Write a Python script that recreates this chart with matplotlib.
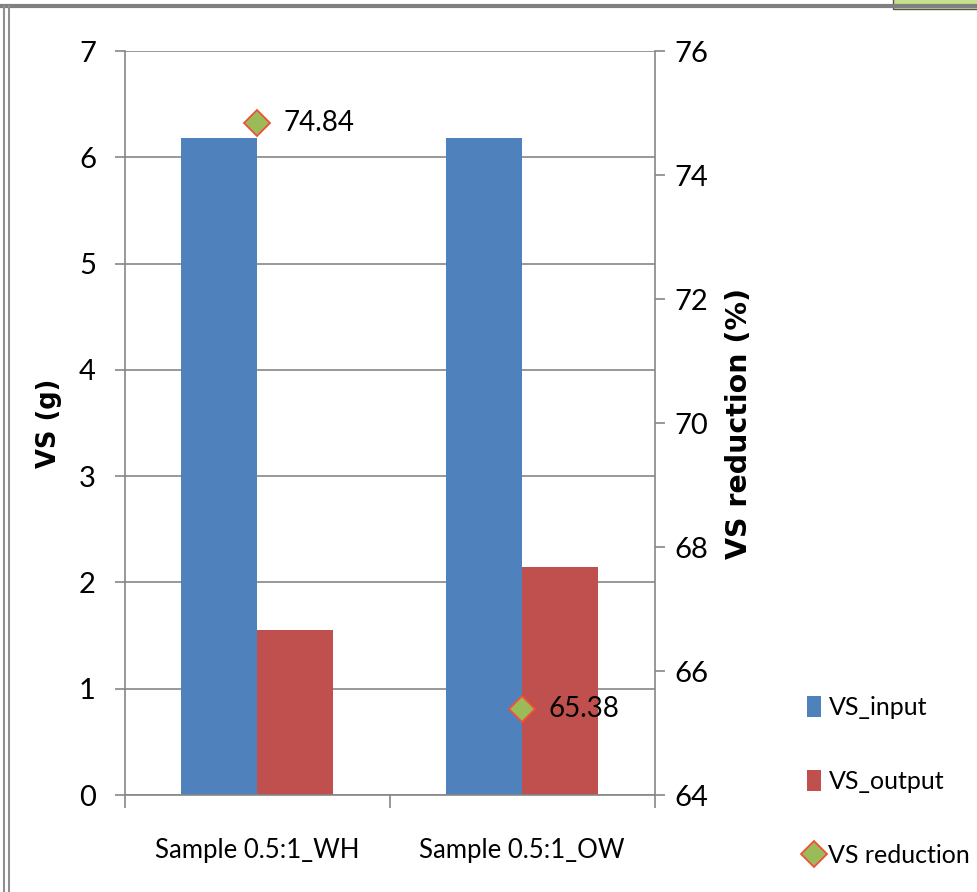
import matplotlib.pyplot as plt
from matplotlib.lines import Line2D
from matplotlib.patches import Patch, Rectangle

samples = ["Sample 0.5:1_WH", "Sample 0.5:1_OW"]
vs_input = [6.18, 6.18]
vs_output = [1.55, 2.15]
vs_reduction = [74.84, 65.38]

blue = "#4F81BD"
red = "#C0504D"
green = "#9BBB59"
edge = "#F0503A"
grey = "#868686"

plt.rcParams["font.family"] = ["Lato", "DejaVu Sans"]
plt.rcParams["font.size"] = 21

fig = plt.figure(figsize=(9.77, 8.92), dpi=100)
ax = fig.add_axes([0.128, 0.1087, 0.542, 0.834])
x = list(range(len(samples)))
w = 0.287
ax.bar([i - w / 2 for i in x], vs_input, width=w, color=blue, label="VS_input", zorder=2)
ax.bar([i + w / 2 for i in x], vs_output, width=w, color=red, label="VS_output", zorder=2)
ax.set_xlim(-0.5, 1.5)
ax.set_ylim(0, 7)
ax.set_yticks(range(8))
ax.yaxis.grid(True, color=grey, linewidth=1.2, zorder=0)
ax.set_axisbelow(True)
for s in ["top", "right"]:
    ax.spines[s].set_visible(False)
for s in ["left", "bottom"]:
    ax.spines[s].set_color(grey)
    ax.spines[s].set_linewidth(1.2)
ax.set_xticks(x)
ax.set_xticklabels(samples, fontsize=18.5)
ax.set_xticks([-0.5, 0.5, 1.5], minor=True)
ax.tick_params(axis="x", which="major", length=0, pad=31)
ax.tick_params(axis="x", which="minor", length=9, color=grey, width=1.2)
ax.tick_params(axis="y", length=7, color=grey, width=1.2, pad=14)
ax.set_ylabel("VS (g)", family="DejaVu Sans", fontweight="bold", fontsize=18.5, labelpad=12)

ax2 = ax.twinx()
ax2.set_ylim(64, 76)
ax2.set_yticks(range(64, 77, 2))
ax2.plot(x, vs_reduction, linestyle="none", marker="D", markersize=13,
         markerfacecolor=green, markeredgecolor=edge, markeredgewidth=1.3,
         label="VS reduction", zorder=3)
for i, v in zip(x, vs_reduction):
    ax2.annotate(f"{v:.2f}", (i, v), xytext=(19, 0), textcoords="offset points",
                 va="center", ha="left", fontsize=20)
for s in ["top", "left", "bottom"]:
    ax2.spines[s].set_visible(False)
ax2.spines["right"].set_color(grey)
ax2.spines["right"].set_linewidth(1.2)
ax2.tick_params(axis="y", length=7, color=grey, width=1.2, pad=7)
ax2.set_ylabel("VS reduction (%)", family="DejaVu Sans", fontweight="bold", fontsize=20.5, labelpad=12)

handles = [
    Patch(facecolor=blue, edgecolor="none"),
    Patch(facecolor=red, edgecolor="none"),
    Line2D([], [], linestyle="none", marker="D", markersize=13, markerfacecolor=green,
           markeredgecolor=edge, markeredgewidth=1.3),
]
fig.legend(handles, ["VS_input", "VS_output", "VS reduction"], loc="upper left",
           bbox_to_anchor=(0.816, 0.231), frameon=False, handlelength=0.55, handleheight=0.9,
           handletextpad=0.3, labelspacing=2.05, borderaxespad=0, fontsize=18)

# screenshot frame
fig.add_artist(Line2D([0, 1], [0.993, 0.993], color="#808080", linewidth=3, transform=fig.transFigure))
fig.add_artist(Line2D([0.004, 0.004], [0, 0.993], color="#909090", linewidth=1.5, transform=fig.transFigure))
fig.add_artist(Line2D([0.009, 0.009], [0, 0.993], color="#909090", linewidth=1.5, transform=fig.transFigure))
fig.add_artist(Rectangle((0.914, 0.99), 0.09, 0.02, facecolor="#C4E08A", edgecolor="#555555",
                         linewidth=1, transform=fig.transFigure))

fig.savefig("out.png", dpi=100)
